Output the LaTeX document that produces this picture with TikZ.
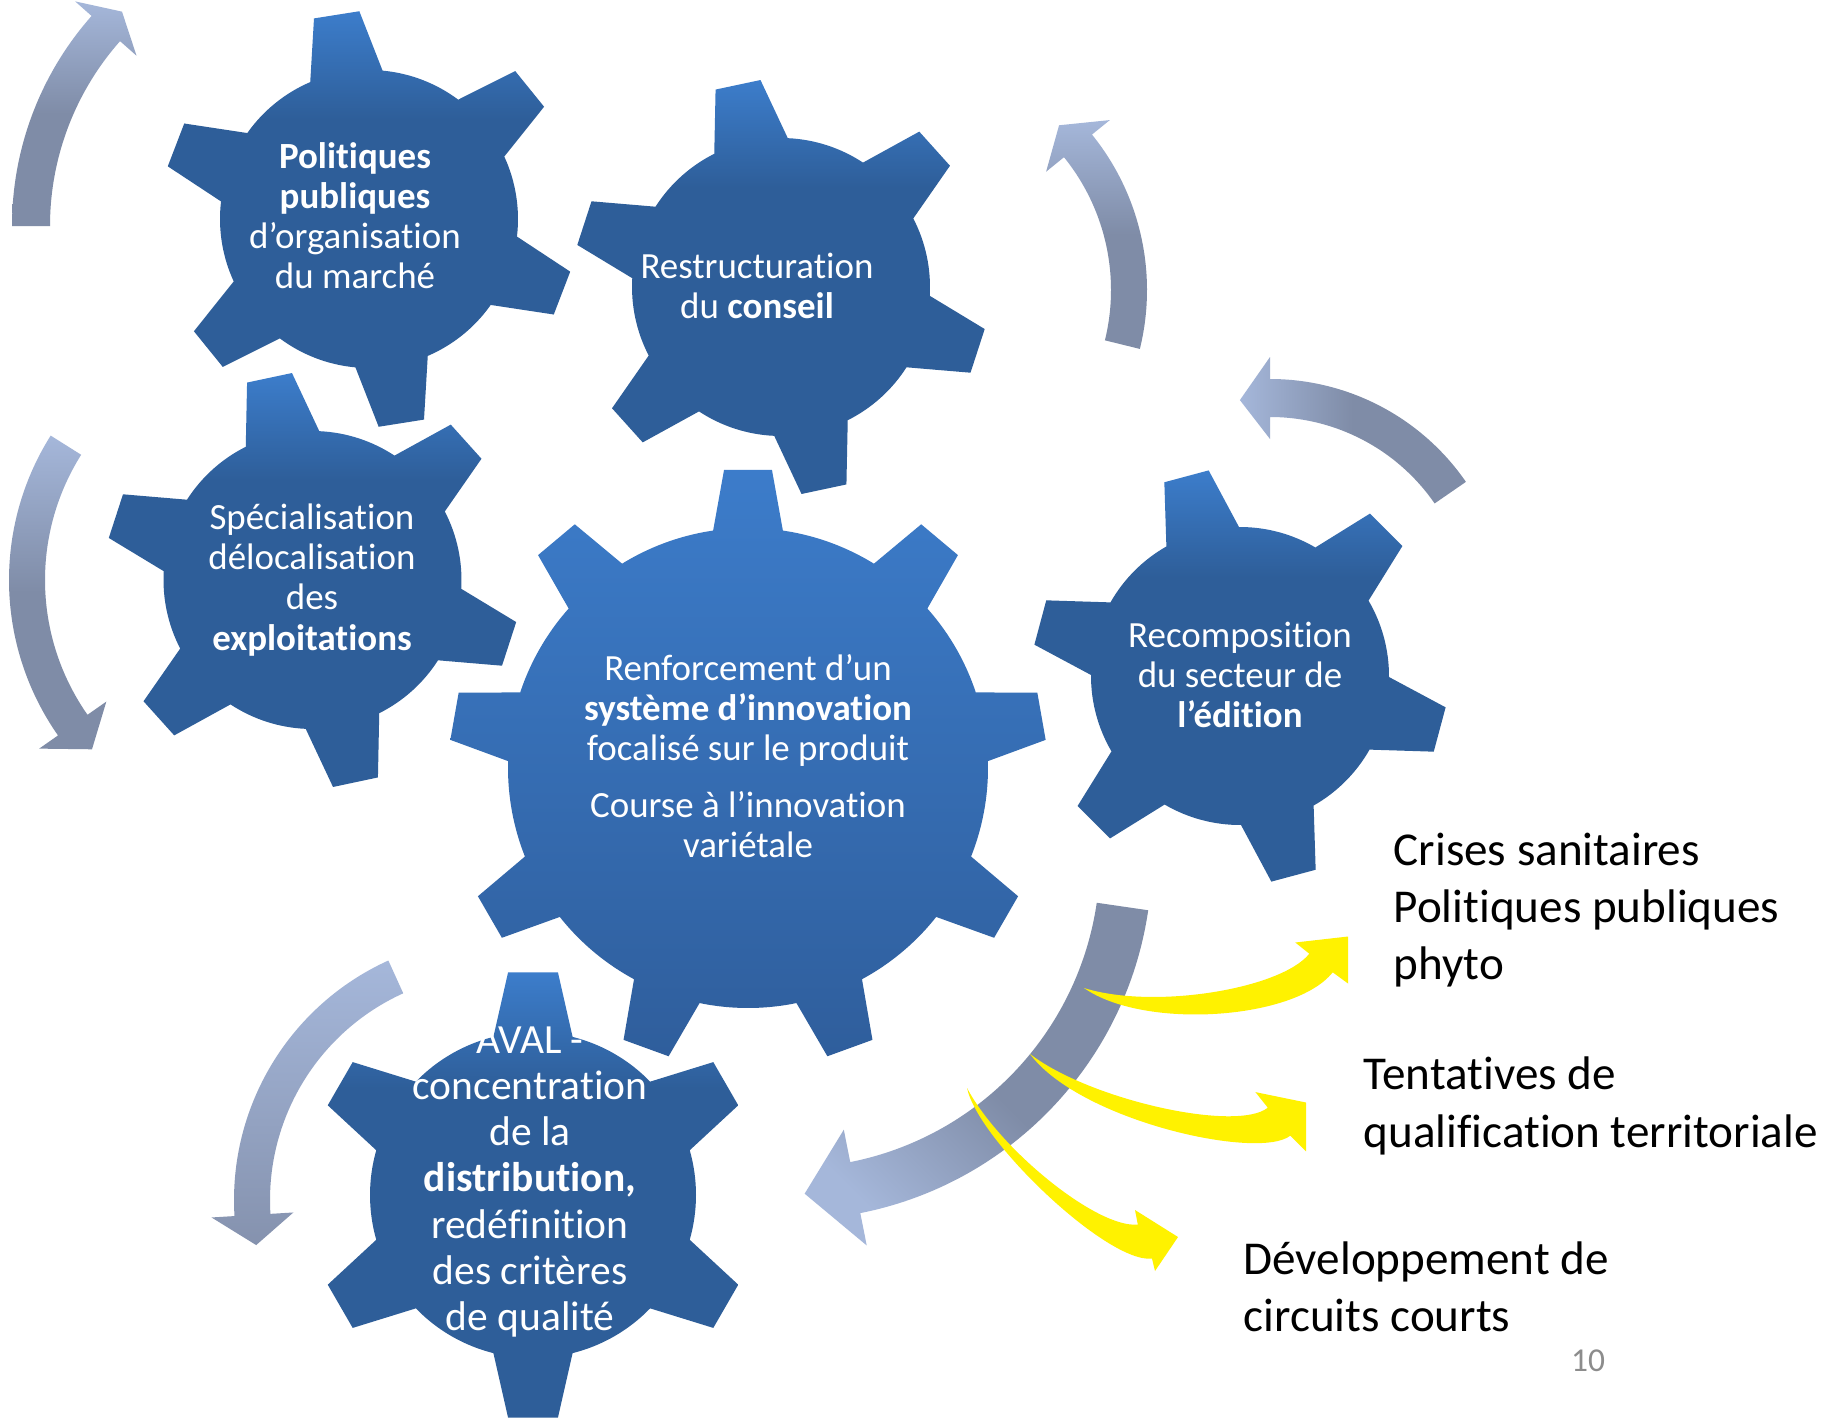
\documentclass[tikz,border=0pt]{standalone}
\usepackage{fontspec}
\setmainfont{Carlito}[Ligatures={NoCommon,NoContextual}, Contextuals=NoAlternate]

\definecolor{gearlight}{HTML}{3C7DCB}
\definecolor{geardark}{HTML}{2E5E99}
\definecolor{hublight}{HTML}{3C7CCA}
\definecolor{hubdark}{HTML}{2F5E9C}
\definecolor{arrowlight}{HTML}{A5B7DA}
\definecolor{arrowdark}{HTML}{7F8CA7}
\definecolor{arrowmid}{HTML}{8592AE}
\definecolor{pagegray}{HTML}{8C8C8C}

\pgfdeclareverticalshading{gearshade}{100bp}{color(0bp)=(geardark); color(62bp)=(geardark); color(75bp)=(gearlight); color(100bp)=(gearlight)}

% gear: [style] cx cy teeth r R phase tip-half base-half
\newcommand{\gearshape}[9][gearfill]{%
  \pgfmathsetmacro{\gst}{360/#4}
  \pgfmathsetmacro{\ght}{#8/#6*180/pi}
  \pgfmathsetmacro{\ghb}{#9/#5*180/pi}
  \begin{scope}[shift={(#2,#3)}]
    \path[#1] ({#7-\ghb}:#5) \foreach \k in {1,...,#4} {
      -- ({#7+(\k-1)*\gst-\ght}:#6) -- ({#7+(\k-1)*\gst+\ght}:#6) -- ({#7+(\k-1)*\gst+\ghb}:#5)
      arc[start angle={#7+(\k-1)*\gst+\ghb}, end angle={#7+\k*\gst-\ghb}, radius=#5]} -- cycle;
  \end{scope}}

% block arc arrow: [style] cx cy r band-half head-half tail base tip
\newcommand{\bendarrow}[9][arrowfill]{%
  \begin{scope}[shift={(#2,#3)}]
    \path[#1] ({#7}:{#4+#5}) arc[start angle=#7, end angle=#8, radius={#4+#5}]
      -- ({#8}:{#4+#6}) -- ({#9}:#4) -- ({#8}:{#4-#6}) -- ({#8}:{#4-#5})
      arc[start angle=#8, end angle=#7, radius={#4-#5}] -- cycle;
  \end{scope}}

\begin{document}
\begin{tikzpicture}[x=0.01cm, y=-0.01cm,
  gearfill/.style={shade, shading=gearshade},
  hubfill/.style={top color=hublight, bottom color=hubdark},
  arrowfill/.style={top color=arrowlight, bottom color=arrowdark, middle color=arrowdark},
  swoosh/.style={fill=yellow},
  geartext/.style={text=white, align=center, inner sep=0pt, font=\fontsize{10.5}{11.4}\selectfont},
  sidetext/.style={align=left, inner sep=0pt, anchor=west, font=\fontsize{13.4}{16.3}\selectfont}]

\fill[white] (0,0) rectangle (1848,1418);
\useasboundingbox (0,0) rectangle (1848,1418);

% cycle arrows
\bendarrow{329}{226}{298}{19}{41}{180}{221.5}{226}
\bendarrow{280}{580}{253}{18}{41}{212.2}{145}{138}
\bendarrow[top color=arrowlight, bottom color=arrowmid]{497}{1200}{245}{18}{41}{245.6}{176.5}{169.4}
\bendarrow{900}{290}{229}{18}{41}{13.8}{-39}{-46}
\bendarrow[arrowfill, shading angle=90]{1270}{617}{219}{19}{41}{-34.6}{-90}{-97.9}
\bendarrow[arrowfill, shading angle=135]{790}{858}{336}{26}{59}{8.3}{78.8}{87.5}

% gears
\gearshape{369}{219}{6}{149}{208}{-99}{23}{37}
\gearshape{781}{287}{6}{149}{208}{-102}{23}{38}
\gearshape{312.5}{580}{6}{149}{208}{-102}{23}{38}
\gearshape[hubfill]{748}{768}{9}{240}{299}{-90}{24}{35}
\gearshape{1240}{676}{6}{149}{208}{-105}{23}{38}
\gearshape{533}{1195}{6}{163}{224}{-90}{25}{40}

% yellow arrows
\fill[swoosh] (1084,988) .. controls (1144,1030) and (1295,1020) .. (1332.7,972.3)
  -- (1348,983.5) -- (1348,936.5) -- (1295.3,942.5) -- (1309.3,953.7)
  .. controls (1281.4,988.8) and (1154,1010) .. (1084,988) -- cycle;
\fill[swoosh] (1030,1054) .. controls (1080,1121) and (1259,1160.5) .. (1290.2,1135.7)
  -- (1306,1151.3) -- (1306,1102.5) -- (1255.4,1092.1) -- (1267.8,1107.7)
  .. controls (1236.6,1132.5) and (1090,1100) .. (1030,1054) -- cycle;
\fill[swoosh] (967,1088) .. controls (978,1140) and (1107.3,1263.5) .. (1152,1258.6)
  -- (1155,1271) -- (1178,1237) -- (1135,1210) -- (1137.8,1224.5)
  .. controls (1098,1228.9) and (1000,1150) .. (967,1088) -- cycle;

% texts
\node[geartext] (politiques) at (355,216) {\textbf{Politiques}\\\textbf{publiques}\\d’organisation\\du marché};
\node[geartext] (conseil) at (757,286) {Restructuration\\du \textbf{conseil}};
\node[geartext] (exploitations) at (312,580) {Spécialisation\\délocalisation\\des\\\textbf{exploitations}};
\node[geartext] (innovation) at (748,756) {Renforcement d’un\\\textbf{système d’innovation}\\focalisé sur le produit\\[4.8pt]Course à l’innovation\\variétale};
\node[geartext] (edition) at (1240,675) {Recomposition\\du secteur de\\\textbf{l’édition}};
\node[geartext, font=\fontsize{11.8}{13.1}\selectfont] (aval) at (530,1182) {AVAL -\\concentration\\de la\\\textbf{distribution,}\\redéfinition\\des critères\\de qualité};

\node[sidetext] (crises) at (1393,910) {Crises sanitaires\\Politiques publiques\\phyto};
\node[sidetext] (tentatives) at (1363,1106) {Tentatives de\\qualification territoriale};
\node[sidetext] (circuits) at (1243,1287) {Développement de\\circuits courts};
\node[text=pagegray, inner sep=0pt, font=\fontsize{9.5}{11}\selectfont] (pagenum) at (1588,1361) {10};
\end{tikzpicture}
\end{document}
